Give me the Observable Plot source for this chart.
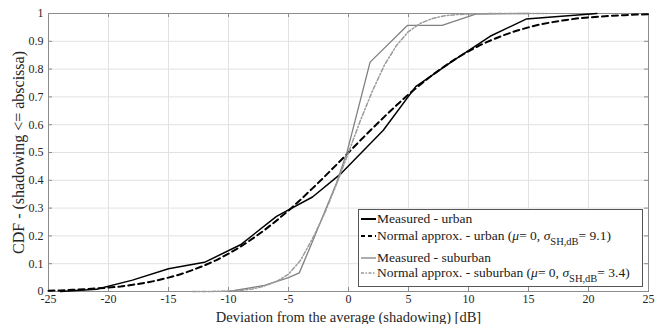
<!DOCTYPE html>
<html><head><meta charset="utf-8">
<script src="https://cdn.jsdelivr.net/npm/d3@7"></script>
<script src="https://cdn.jsdelivr.net/npm/@observablehq/plot@0.6"></script>
<style>
body{margin:0;background:#fff;}
#wrap{position:relative;width:664px;height:324px;font-family:"Liberation Serif","DejaVu Serif",serif;}
#wrap svg text{font-family:"Liberation Serif","DejaVu Serif",serif;}
#legend{position:absolute;left:358px;top:209px;width:283px;height:76px;border:1px solid #555;background:#fff;font-size:13.5px;color:#1a1a1a;font-family:"Liberation Serif","DejaVu Serif",serif;}
.row{position:absolute;left:2px;height:16px;display:flex;align-items:center;white-space:nowrap;}
.row svg{margin-right:1px;}
sub{font-size:10.5px;vertical-align:-5px;line-height:0;}
i{font-style:italic;}
</style>
</head><body>
<div id="wrap"></div>
<script>
const xTicks = [-25,-20,-15,-10,-5,0,5,10,15,20,25];
const yTicks = [0,0.1,0.2,0.3,0.4,0.5,0.6,0.7,0.8,0.9,1];

// Measured - urban
const urbanX = [-24,-21,-18,-15,-12,-9,-6,-3,-0.6,2.9,5.6,8.7,11.8,14.8,20.7];
const urbanY = [0,0.008,0.041,0.082,0.105,0.168,0.27,0.34,0.425,0.58,0.737,0.83,0.918,0.98,1.0];

// Normal approx. - urban (sigma 9.1)
const normUrbanX = [-25,-24,-23,-22,-21,-20,-19,-18,-17,-16,-15,-14,-13,-12,-11,-10,-9,-8,-7,-6,-5,-4,-3,-2,-1,0,1,2,3,4,5,6,7,8,9,10,11,12,13,14,15,16,17,18,19,20,21,22,23,24,25];
const normUrbanY = [0.003,0.004,0.006,0.008,0.011,0.014,0.018,0.024,0.031,0.039,0.05,0.062,0.077,0.094,0.113,0.136,0.161,0.19,0.221,0.255,0.291,0.33,0.371,0.413,0.456,0.5,0.544,0.587,0.629,0.67,0.709,0.745,0.779,0.81,0.839,0.864,0.887,0.906,0.923,0.938,0.95,0.961,0.969,0.976,0.982,0.986,0.989,0.992,0.994,0.996,0.997];

// Measured - suburban
const subX = [-10,-7,-5,-4.1,-3,-2,-1,-0.1,1.8,4.9,7.8,10.6,15];
const subY = [0,0.022,0.05,0.067,0.18,0.285,0.39,0.505,0.825,0.957,0.957,0.998,1.0];

// Normal approx. - suburban (sigma 3.4)
const normSubX = [-13,-12,-11,-10,-9,-8,-7,-6,-5,-4,-3,-2,-1,0,1,2,3,4,5,6,7,8,9,10,11,12,13,14,15,16.5];
const normSubY = [0,0.0002,0.0006,0.002,0.004,0.009,0.02,0.036,0.062,0.112,0.19,0.28,0.386,0.5,0.616,0.722,0.815,0.885,0.935,0.965,0.982,0.992,0.996,0.998,0.999,1,1,1,1,1];

const series = [
  {x: urbanX, y: urbanY, stroke: "#000", width: 1.5, dash: null},
  {x: normUrbanX, y: normUrbanY, stroke: "#000", width: 2, dash: "6,4"},
  {x: subX, y: subY, stroke: "#808080", width: 1.3, dash: null},
  {x: normSubX, y: normSubY, stroke: "#9a9a9a", width: 1.5, dash: "4,2,1.5,2"}
];

const toRows = s => s.x.map((x, i) => ({x, y: s.y[i]}));

const W = 664, H = 324, mL = 48, mR = 16, mT = 13, mB = 33;
const fw = W - mL - mR, fh = H - mT - mB;

const chart = Plot.plot({
  width: W, height: H,
  marginLeft: mL, marginRight: mR, marginTop: mT, marginBottom: mB,
  style: {fontFamily: "Liberation Serif, DejaVu Serif, serif", fontSize: "12px", color: "#262626", background: "white"},
  x: {domain: [-25, 25]},
  y: {domain: [0, 1]},
  marks: [
    Plot.gridX(xTicks, {stroke: "#e2e2e2", strokeOpacity: 1}),
    Plot.gridY(yTicks, {stroke: "#e2e2e2", strokeOpacity: 1}),
    Plot.tickX(xTicks, {x: d => d, stroke: "#8c8c8c", insetTop: fh - 4}),
    Plot.tickX(xTicks, {x: d => d, stroke: "#8c8c8c", insetBottom: fh - 4}),
    Plot.tickY(yTicks, {y: d => d, stroke: "#8c8c8c", insetRight: fw - 4}),
    Plot.tickY(yTicks, {y: d => d, stroke: "#8c8c8c", insetLeft: fw - 4}),
    Plot.frame({stroke: "#8c8c8c"}),
    Plot.axisX(xTicks, {tickSize: 0, tickPadding: 3, label: "Deviation from the average (shadowing) [dB]", labelAnchor: "center", labelArrow: "none", labelOffset: 30, tickFormat: d => String(d)}),
    Plot.axisY(yTicks, {tickSize: 0, tickPadding: 5, label: "CDF - (shadowing <= abscissa)", labelAnchor: "center", labelArrow: "none", labelOffset: 36, tickFormat: d => String(d)}),
    ...series.map(s => Plot.line(toRows(s), {x: "x", y: "y", stroke: s.stroke, strokeWidth: s.width, strokeDasharray: s.dash, strokeLinejoin: "round"}))
  ]
});

const wrap = document.getElementById("wrap");
wrap.appendChild(chart);
d3.select(chart).selectAll('g[aria-label="x-axis label"] text').style("font-size", "14.5px").style("fill", "#262626");
d3.select(chart).selectAll('g[aria-label="y-axis label"] text').style("font-size", "16px").style("fill", "#262626");

// legend overlay
const legendItems = [
  {stroke: "#000", width: 2, dash: null, html: "Measured - urban", top: 1},
  {stroke: "#000", width: 2.2, dash: "4,3", html: "Normal approx. - urban (<i>μ</i>= 0, <i>σ</i><sub>SH,dB</sub>= 9.1)", top: 18},
  {stroke: "#808080", width: 1.3, dash: null, html: "Measured - suburban", top: 40},
  {stroke: "#9a9a9a", width: 1.5, dash: "3,1.5,1.5,1.5", html: "Normal approx. - suburban (<i>μ</i>= 0, <i>σ</i><sub>SH,dB</sub>= 3.4)", top: 55}
];
const leg = document.createElement("div");
leg.id = "legend";
legendItems.forEach(it => {
  const row = document.createElement("div");
  row.className = "row";
  row.style.top = it.top + "px";
  row.innerHTML = `<svg width="15" height="10"><line x1="0" y1="5" x2="15" y2="5" stroke="${it.stroke}" stroke-width="${it.width}" ${it.dash ? `stroke-dasharray="${it.dash}"` : ""}/></svg><span>${it.html}</span>`;
  leg.appendChild(row);
});
wrap.appendChild(leg);
</script>
</body></html>
